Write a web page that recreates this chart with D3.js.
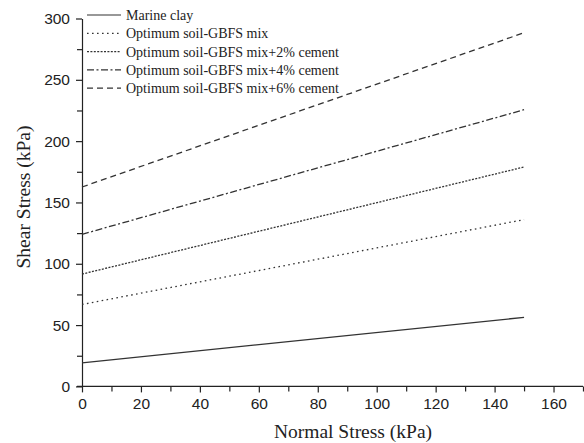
<!DOCTYPE html>
<html>
<head>
<meta charset="utf-8">
<script src="https://cdn.jsdelivr.net/npm/d3@7"></script>
<style>
  body { margin: 0; background: #fff; }
  .tick text { font-family: "Liberation Sans", Arial, sans-serif; font-size: 15.5px; fill: #222; }
  .axisTitle { font-family: "Liberation Serif", "Times New Roman", serif; font-size: 19.5px; fill: #222; }
  .legText { font-family: "Liberation Serif", "Times New Roman", serif; font-size: 14px; fill: #222; }
</style>
</head>
<body>
<div id="chart"></div>
<script>
// series (kPa), straight failure envelopes from 0 to 150 kPa normal stress
var seriesNames = [
    "Marine clay",
    "Optimum soil-GBFS mix",
    "Optimum soil-GBFS mix+2% cement",
    "Optimum soil-GBFS mix+4% cement",
    "Optimum soil-GBFS mix+6% cement"
];
var normalStress = [0, 150];
var marineClay = [19.2, 56.3];
var soilGbfs = [66.8, 136];
var cement2 = [91.6, 178.9];
var cement4 = [124, 225.6];
var cement6 = [162.6, 288.4];
var xTicks = [0, 20, 40, 60, 80, 100, 120, 140, 160];
var yTicks = [0, 50, 100, 150, 200, 250, 300];

var allSeries = [marineClay, soilGbfs, cement2, cement4, cement6];
var dashes = ["none", "1.6,3.4", "2,1.4", "7,2.5,2,2.5", "6,4"];

var svg_width = 584;
var svg_height = 443;
var margin = { top: 18.5, right: 1, bottom: 56.6, left: 82 };
var chartWidth = svg_width - margin.left - margin.right;
var chartHeight = svg_height - margin.top - margin.bottom;

var svg = d3.select("#chart")
    .append("svg")
    .attr("width", svg_width)
    .attr("height", svg_height);

var chartGroup = svg.append("g")
    .attr("transform", `translate(${margin.left}, ${margin.top})`);

var xScale = d3.scaleLinear().domain([0, 170]).range([0, chartWidth]);
var yScale = d3.scaleLinear().domain([0, 300]).range([chartHeight, 0]);

// minor ticks first
chartGroup.append("g")
    .attr("transform", `translate(0, ${chartHeight})`)
    .call(d3.axisBottom(xScale).tickValues(d3.range(10, 171, 20)).tickSize(5).tickFormat(""))
    .call(g => g.select(".domain").remove());
chartGroup.append("g")
    .call(d3.axisLeft(yScale).tickValues(d3.range(25, 300, 50)).tickSize(5).tickFormat(""))
    .call(g => g.select(".domain").remove());

// major axes
var bottom_axis = d3.axisBottom(xScale).tickValues(xTicks).tickSize(6).tickSizeOuter(0).tickPadding(6);
var left_axis = d3.axisLeft(yScale).tickValues(yTicks).tickSize(6).tickSizeOuter(0).tickPadding(6);

var xAxisG = chartGroup.append("g")
    .attr("transform", `translate(0, ${chartHeight})`)
    .call(bottom_axis);
xAxisG.select(".domain").attr("d", `M-5,0H${chartWidth}`);

chartGroup.append("g").call(left_axis);

chartGroup.selectAll(".domain, .tick line").attr("stroke", "#222").attr("stroke-width", 1.2);

// lines
var line = d3.line()
    .x((d, i) => xScale(normalStress[i]))
    .y(d => yScale(d));

chartGroup.append("g").selectAll("path")
    .data(allSeries)
    .enter()
    .append("path")
    .attr("d", d => line(d))
    .attr("fill", "none")
    .attr("stroke", "#333")
    .attr("stroke-width", 1.3)
    .attr("stroke-dasharray", (d, i) => dashes[i]);

// legend
var legend = svg.append("g").attr("transform", "translate(87, 15)");
var rows = legend.selectAll("g")
    .data(seriesNames)
    .enter()
    .append("g")
    .attr("transform", (d, i) => `translate(0, ${i * 18.3})`);
rows.append("line")
    .attr("x1", 0).attr("x2", 34)
    .attr("stroke", "#333")
    .attr("stroke-width", 1.2)
    .attr("stroke-dasharray", (d, i) => dashes[i]);
rows.append("text")
    .attr("class", "legText")
    .attr("x", 39)
    .attr("dy", "0.35em")
    .text(d => d);

// axis titles
svg.append("text")
    .attr("class", "axisTitle")
    .attr("text-anchor", "middle")
    .attr("x", 353)
    .attr("y", 438)
    .text("Normal Stress (kPa)");

svg.append("text")
    .attr("class", "axisTitle")
    .attr("text-anchor", "middle")
    .attr("transform", "translate(30, 197) rotate(-90)")
    .text("Shear Stress (kPa)");
</script>
</body>
</html>
